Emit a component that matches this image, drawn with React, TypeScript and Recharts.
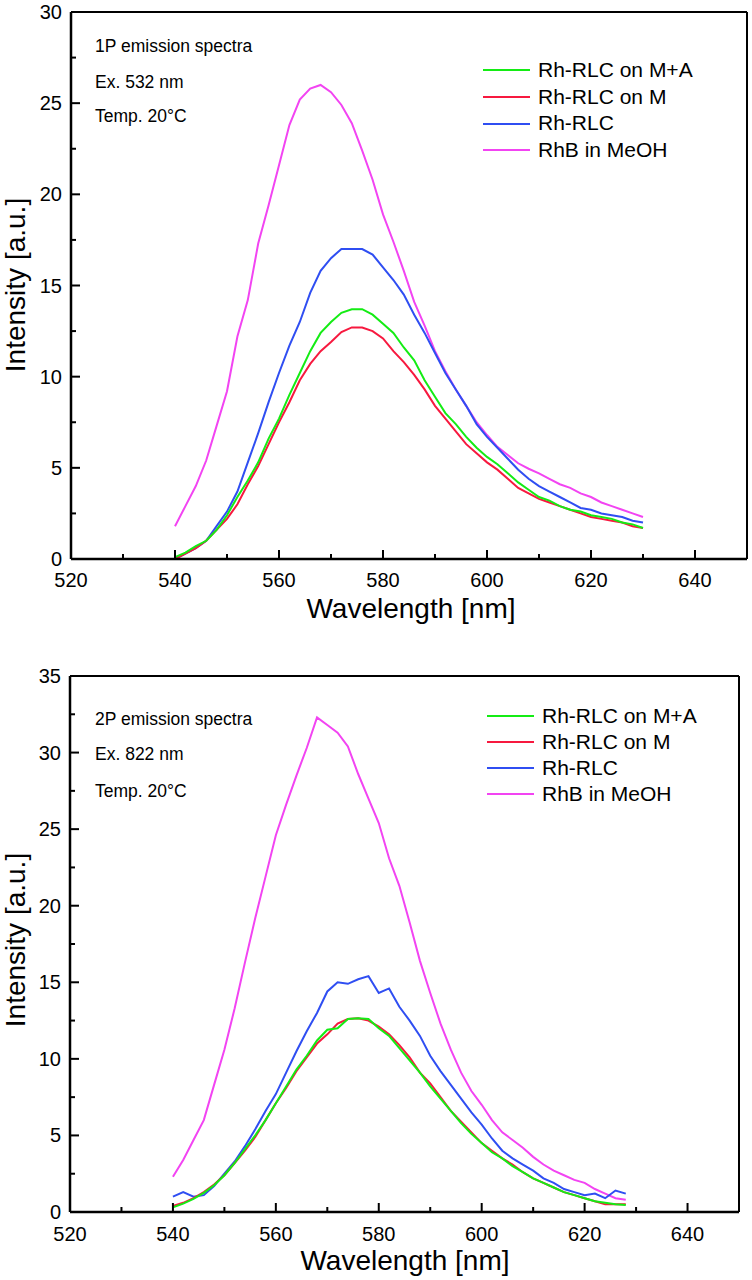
import React from 'react';
import { LineChart, Line, XAxis, YAxis, Legend, Customized, ReferenceLine } from 'recharts';

// ---------- shared ----------
const seriesNames = ['Rh-RLC on M+A', 'Rh-RLC on M', 'Rh-RLC', 'RhB in MeOH'];
const seriesColors = ['#14ec14', '#f7193f', '#2f4ef2', '#f244f2'];
const seriesKeys = ['ma', 'm', 'rlc', 'rhb'];
const drawOrder = [3, 2, 1, 0];

const xMajorTicks = [520, 540, 560, 580, 600, 620, 640];
const xMinorTicks = [530, 550, 570, 590, 610, 630];

// ---------- top chart (1P) ----------
const wavelengths1 = [540, 542, 544, 546, 548, 550, 552, 554, 556, 558, 560, 562, 564, 566, 568, 570, 572, 574, 576, 578, 580, 582, 584, 586, 588, 590, 592, 594, 596, 598, 600, 602, 604, 606, 608, 610, 612, 614, 616, 618, 620, 622, 624, 626, 628, 630];
const rhRlcMA1 = [0.1, 0.35, 0.7, 1.0, 1.6, 2.4, 3.4, 4.3, 5.3, 6.6, 7.7, 9.0, 10.2, 11.4, 12.4, 13.0, 13.5, 13.7, 13.7, 13.4, 12.9, 12.4, 11.6, 10.9, 9.8, 8.9, 8.0, 7.4, 6.7, 6.1, 5.6, 5.2, 4.7, 4.2, 3.8, 3.4, 3.2, 2.9, 2.7, 2.6, 2.4, 2.3, 2.2, 2.0, 1.9, 1.7];
const rhRlcM1 = [0.0, 0.3, 0.6, 1.0, 1.6, 2.2, 3.0, 4.1, 5.1, 6.3, 7.5, 8.6, 9.8, 10.7, 11.4, 11.9, 12.45, 12.7, 12.7, 12.5, 12.1, 11.4, 10.8, 10.1, 9.3, 8.4, 7.7, 7.0, 6.3, 5.8, 5.3, 4.9, 4.4, 3.9, 3.6, 3.3, 3.1, 2.9, 2.7, 2.5, 2.3, 2.2, 2.1, 2.0, 1.8, 1.7];
const rhRlc1 = [0.0, 0.3, 0.6, 1.0, 1.8, 2.6, 3.7, 5.3, 6.9, 8.6, 10.2, 11.7, 13.0, 14.6, 15.8, 16.5, 17.0, 17.0, 17.0, 16.7, 16.0, 15.3, 14.5, 13.4, 12.4, 11.3, 10.2, 9.3, 8.4, 7.4, 6.7, 6.1, 5.5, 4.9, 4.4, 4.0, 3.7, 3.4, 3.1, 2.8, 2.7, 2.5, 2.4, 2.3, 2.1, 2.0];
const rhbMeOH1 = [1.8, 2.9, 4.0, 5.4, 7.3, 9.2, 12.2, 14.2, 17.3, 19.4, 21.6, 23.8, 25.2, 25.8, 26.0, 25.6, 24.9, 23.9, 22.4, 20.8, 18.9, 17.4, 15.8, 14.1, 12.8, 11.4, 10.3, 9.3, 8.4, 7.5, 6.8, 6.15, 5.7, 5.25, 4.95, 4.7, 4.4, 4.1, 3.9, 3.6, 3.4, 3.1, 2.9, 2.7, 2.5, 2.3];
const yMajorTicks1 = [0, 5, 10, 15, 20, 25, 30];
const yMinorTicks1 = [2.5, 7.5, 12.5, 17.5, 22.5, 27.5];
const notes1 = ['1P emission spectra', 'Ex. 532 nm', 'Temp. 20\u00b0C'];

// ---------- bottom chart (2P) ----------
const wavelengths2 = [540, 542, 544, 546, 548, 550, 552, 554, 556, 558, 560, 562, 564, 566, 568, 570, 572, 574, 576, 578, 580, 582, 584, 586, 588, 590, 592, 594, 596, 598, 600, 602, 604, 606, 608, 610, 612, 614, 616, 618, 620, 622, 624, 626, 628];
const rhRlcMA2 = [0.3, 0.55, 0.85, 1.25, 1.75, 2.4, 3.2, 4.1, 5.0, 6.0, 7.1, 8.2, 9.3, 10.2, 11.2, 11.9, 12.0, 12.6, 12.65, 12.6, 12.0, 11.5, 10.7, 9.9, 9.1, 8.2, 7.4, 6.6, 5.8, 5.1, 4.5, 3.9, 3.5, 3.0, 2.6, 2.2, 1.9, 1.6, 1.3, 1.1, 0.9, 0.7, 0.6, 0.5, 0.45];
const rhRlcM2 = [0.4, 0.6, 0.9, 1.3, 1.8, 2.4, 3.2, 4.0, 4.9, 6.0, 7.1, 8.1, 9.2, 10.1, 11.0, 11.6, 12.3, 12.6, 12.65, 12.5, 12.1, 11.6, 10.9, 10.1, 9.1, 8.4, 7.5, 6.6, 5.9, 5.2, 4.5, 4.0, 3.5, 3.1, 2.6, 2.2, 1.9, 1.6, 1.3, 1.1, 0.9, 0.7, 0.5, 0.5, 0.5];
const rhRlc2 = [1.0, 1.3, 1.0, 1.1, 1.7, 2.5, 3.3, 4.3, 5.4, 6.6, 7.7, 9.1, 10.5, 11.8, 13.0, 14.4, 15.0, 14.9, 15.2, 15.4, 14.3, 14.6, 13.4, 12.5, 11.5, 10.2, 9.2, 8.3, 7.4, 6.5, 5.7, 4.8, 4.0, 3.5, 3.1, 2.7, 2.2, 1.9, 1.5, 1.3, 1.1, 1.2, 0.9, 1.4, 1.2];
const rhbMeOH2 = [2.3, 3.4, 4.7, 6.0, 8.3, 10.6, 13.3, 16.3, 19.2, 21.9, 24.6, 26.6, 28.5, 30.3, 32.3, 31.8, 31.3, 30.4, 28.6, 27.0, 25.4, 23.1, 21.3, 18.9, 16.4, 14.3, 12.3, 10.6, 9.1, 7.9, 7.0, 6.0, 5.2, 4.7, 4.2, 3.6, 3.1, 2.7, 2.4, 2.1, 1.9, 1.5, 1.2, 0.9, 0.8];
const yMajorTicks2 = [0, 5, 10, 15, 20, 25, 30, 35];
const yMinorTicks2 = [2.5, 7.5, 12.5, 17.5, 22.5, 27.5, 32.5];
const notes2 = ['2P emission spectra', 'Ex. 822 nm', 'Temp. 20\u00b0C'];

const X_MIN = 520;
const X_MAX = 650;

const FONT = '"Liberation Sans", Arial, Helvetica, sans-serif';

function buildData(xs: number[], a: number[], b: number[], c: number[], d: number[]) {
  return xs.map((x, i) => ({ x, ma: a[i], m: b[i], rlc: c[i], rhb: d[i] }));
}

const data1 = buildData(wavelengths1, rhRlcMA1, rhRlcM1, rhRlc1, rhbMeOH1);
const data2 = buildData(wavelengths2, rhRlcMA2, rhRlcM2, rhRlc2, rhbMeOH2);

const XTick = (props: any) => {
  const { x, y, payload } = props;
  const major = xMajorTicks.includes(payload.value);
  return (
    <g>
      <line x1={x} x2={x} y1={y} y2={y - (major ? 9 : 5)} stroke="#000" strokeWidth={2} />
      {major && (
        <text x={x} y={y + props.labelOffset} textAnchor="middle" fontSize={20} fontFamily={FONT} fill="#000">
          {payload.value}
        </text>
      )}
    </g>
  );
};

const YTick = (props: any) => {
  const { x, y, payload, majors } = props;
  const major = majors.includes(payload.value);
  return (
    <g>
      <line x1={x} x2={x + (major ? 9 : 5)} y1={y} y2={y} stroke="#000" strokeWidth={2} />
      {major && (
        <text x={x - 9} y={y + 7} textAnchor="end" fontSize={20} fontFamily={FONT} fill="#000">
          {payload.value}
        </text>
      )}
    </g>
  );
};

const makeLegend = (rowH: number) => () => (
  <div style={{ fontFamily: FONT, fontSize: 21, color: '#000' }}>
    {seriesNames.map((n, i) => (
      <div key={n} style={{ height: rowH, display: 'flex', alignItems: 'center', whiteSpace: 'nowrap' }}>
        <span style={{ display: 'inline-block', width: 47, height: 2, background: seriesColors[i], marginRight: 8 }} />
        <span style={{ lineHeight: rowH + 'px' }}>{n}</span>
      </div>
    ))}
  </div>
);

const Overlay = (p: { notes: string[]; noteY: number[]; labelY: number; xLabelY: number; xLabelX: number }) => (
  <g fontFamily={FONT} fill="#000">
    {p.notes.map((t, i) => (
      <text key={t} x={95} y={p.noteY[i]} fontSize={17.5}>
        {t}
      </text>
    ))}
    <text x={25} y={p.labelY} fontSize={28} textAnchor="middle" transform={`rotate(-90, 25, ${p.labelY})`}>
      Intensity [a.u.]
    </text>
    <text x={p.xLabelX} y={p.xLabelY} fontSize={28} textAnchor="middle">
      Wavelength [nm]
    </text>
  </g>
);

function Panel(props: {
  data: any[];
  height: number;
  margin: any;
  yWidth: number;
  xHeight: number;
  yMax: number;
  yMajors: number[];
  yMinors: number[];
  labelOffset: number;
  legendTop: number;
  legendLeft: number;
  rowH: number;
  notes: string[];
  noteY: number[];
  labelY: number;
  xLabelY: number;
  xLabelX: number;
}) {
  const yTicks = [...props.yMajors, ...props.yMinors].sort((a, b) => a - b);
  const xTicks = [...xMajorTicks, ...xMinorTicks].sort((a, b) => a - b);
  return (
    <LineChart width={752} height={props.height} data={props.data} margin={props.margin}>
      <XAxis
        dataKey="x"
        type="number"
        domain={[X_MIN, X_MAX]}
        ticks={xTicks}
        interval={0}
        height={props.xHeight}
        tickSize={0}
        tickMargin={0}
        tickLine={false}
        axisLine={{ stroke: '#000', strokeWidth: 2.5 }}
        tick={<XTick labelOffset={props.labelOffset} />}
        allowDataOverflow
      />
      <YAxis
        type="number"
        domain={[0, props.yMax]}
        ticks={yTicks}
        interval={0}
        width={props.yWidth}
        tickSize={0}
        tickMargin={0}
        tickLine={false}
        axisLine={{ stroke: '#000', strokeWidth: 2.5 }}
        tick={<YTick majors={props.yMajors} />}
        allowDataOverflow
      />
      <ReferenceLine y={props.yMax} stroke="#000" strokeWidth={2} ifOverflow="visible" />
      <ReferenceLine x={X_MAX} stroke="#000" strokeWidth={2} ifOverflow="visible" />
      {drawOrder.map((i) => (
        <Line
          key={seriesKeys[i]}
          dataKey={seriesKeys[i]}
          name={seriesNames[i]}
          stroke={seriesColors[i]}
          strokeWidth={2}
          dot={false}
          type="linear"
          isAnimationActive={false}
        />
      ))}
      <Legend
        layout="vertical"
        align="center"
        verticalAlign="middle"
        content={makeLegend(props.rowH)}
        wrapperStyle={{ position: 'absolute', left: props.legendLeft, top: props.legendTop, width: 260 }}
      />
      <Customized
        component={
          <Overlay
            notes={props.notes}
            noteY={props.noteY}
            labelY={props.labelY}
            xLabelY={props.xLabelY}
            xLabelX={props.xLabelX}
          />
        }
      />
    </LineChart>
  );
}

export default function App() {
  return (
    <div style={{ position: 'absolute', left: 0, top: 0, width: 752, height: 1280, background: '#fff', overflow: 'hidden' }}>
      <div style={{ position: 'absolute', left: 0, top: 0 }}>
        <Panel
          data={data1}
          height={630}
          margin={{ top: 12, right: 5, bottom: 0, left: 0 }}
          yWidth={71}
          xHeight={71}
          yMax={30}
          yMajors={yMajorTicks1}
          yMinors={yMinorTicks1}
          labelOffset={28}
          legendTop={57}
          legendLeft={483}
          rowH={26.7}
          notes={notes1}
          noteY={[52, 88, 122]}
          labelY={285}
          xLabelY={618}
          xLabelX={411}
        />
      </div>
      <div style={{ position: 'absolute', left: 0, top: 640 }}>
        <Panel
          data={data2}
          height={640}
          margin={{ top: 36, right: 13, bottom: 0, left: 0 }}
          yWidth={70}
          xHeight={68}
          yMax={35}
          yMajors={yMajorTicks2}
          yMinors={yMinorTicks2}
          labelOffset={29}
          legendTop={63}
          legendLeft={487}
          rowH={26}
          notes={notes2}
          noteY={[85, 120, 157]}
          labelY={300}
          xLabelY={630}
          xLabelX={405}
        />
      </div>
    </div>
  );
}
